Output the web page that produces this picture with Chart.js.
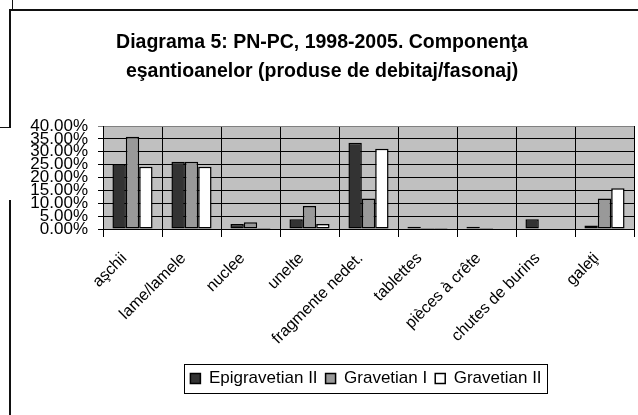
<!DOCTYPE html>
<html>
<head>
<meta charset="utf-8">
<script src="https://cdn.jsdelivr.net/npm/chart.js@4.4.0/dist/chart.umd.min.js"></script>
<style>
  html, body { margin: 0; padding: 0; background: #fff; }
  #wrap { position: relative; width: 638px; height: 415px; overflow: hidden; }
  #chart { position: absolute; left: 0; top: 0; }
  .ln { position: absolute; background: #111; }
</style>
</head>
<body>
<div id="wrap">
  <canvas id="chart" width="638" height="415"></canvas>
  <!-- bits of the page frame around the scanned chart -->
  <div class="ln" style="left:12px;top:0;width:1px;height:9px"></div>
  <div class="ln" style="left:9px;top:9px;width:629px;height:2px"></div>
  <div class="ln" style="left:9px;top:9px;width:2px;height:119px"></div>
  <div class="ln" style="left:0;top:127px;width:10px;height:1px"></div>
  <div class="ln" style="left:9px;top:200px;width:2px;height:215px"></div>
</div>
<script>
// categories (x axis)
const categories = [
  'aşchii', 'lame/lamele', 'nuclee', 'unelte', 'fragmente nedet.',
  'tablettes', 'pièces à crête', 'chutes de burins', 'galeţi'
];

// percentages
const epigravetianII = [25.1, 26.1, 1.9, 3.8, 33.5, 0.9, 0.9, 3.8, 1.4];
const gravetianI = [35.8, 26.1, 2.6, 8.9, 11.8, 0.4, 0.4, null, 11.8];
const gravetianII = [24.2, 24.2, 0.4, 1.9, 31.2, 0.4, null, null, 15.8];

// y axis tick values
const yTicks = [0, 5, 10, 15, 20, 25, 30, 35, 40];

const FONT = "'Liberation Sans', Arial, sans-serif";
const LEGEND_SHIFT = 44;

// grey plot background
const plotBackground = {
  id: 'plotBackground',
  beforeDraw(chart) {
    const { ctx, chartArea } = chart;
    ctx.save();
    ctx.fillStyle = '#c0c0c0';
    ctx.fillRect(chartArea.left, chartArea.top,
      chartArea.right - chartArea.left, chartArea.bottom - chartArea.top);
    ctx.restore();
  }
};

// legend sits right of centre in the original, and has a frame
const legendFrame = {
  id: 'legendFrame',
  afterUpdate(chart) {
    const legend = chart.legend;
    legend.left += LEGEND_SHIFT;
    legend.right += LEGEND_SHIFT;
    legend.legendHitBoxes.forEach((b) => { b.left += LEGEND_SHIFT; });
  },
  afterDraw(chart) {
    const boxes = chart.legend.legendHitBoxes;
    if (!boxes || !boxes.length) return;
    const left = Math.min(...boxes.map(b => b.left)) - 6;
    const right = Math.max(...boxes.map(b => b.left + b.width)) + 6;
    const top = Math.min(...boxes.map(b => b.top)) - 6;
    const bottom = Math.max(...boxes.map(b => b.top + b.height)) + 6;
    const { ctx } = chart;
    ctx.save();
    ctx.strokeStyle = '#000';
    ctx.lineWidth = 1;
    ctx.strokeRect(Math.round(left) + 0.5, Math.round(top) + 0.5,
      Math.round(right - left), Math.round(bottom - top));
    ctx.restore();
  }
};

const barStyle = {
  borderColor: '#000',
  borderWidth: 1.5,
  borderSkipped: false,
  barPercentage: 1,
  categoryPercentage: 0.68
};

new Chart(document.getElementById('chart'), {
  type: 'bar',
  data: {
    labels: categories,
    datasets: [
      { label: 'Epigravetian II', data: epigravetianII, backgroundColor: '#333333', ...barStyle },
      { label: 'Gravetian I', data: gravetianI, backgroundColor: '#999999', ...barStyle },
      { label: 'Gravetian II', data: gravetianII, backgroundColor: '#ffffff', ...barStyle }
    ]
  },
  options: {
    responsive: false,
    animation: false,
    layout: { padding: { left: 10, right: 4, top: 10, bottom: 18 } },
    plugins: {
      title: {
        display: true,
        text: ['Diagrama 5: PN-PC, 1998-2005. Componenţa',
               'eşantioanelor (produse de debitaj/fasonaj)'],
        color: '#000',
        font: { family: FONT, size: 19.5, weight: 'bold', lineHeight: '29px' },
        padding: { top: 18, bottom: 40 }
      },
      legend: {
        position: 'bottom',
        labels: {
          color: '#000',
          font: { family: FONT, size: 17 },
          boxWidth: 10,
          boxHeight: 10,
          padding: 8
        }
      },
      tooltip: { enabled: false }
    },
    scales: {
      x: {
        grid: {
          offset: true,
          color: (ctx) => (ctx.index === categories.length ? '#808080' : '#000'),
          lineWidth: 1,
          tickLength: 8
        },
        border: { color: '#000', width: 1 },
        ticks: {
          color: '#000',
          font: { family: FONT, size: 16 },
          minRotation: 45,
          maxRotation: 45,
          autoSkip: false,
          labelOffset: -8,
          padding: 12
        },
        afterFit(scale) { scale.height = 133; }
      },
      y: {
        min: 0,
        max: 40,
        afterBuildTicks(scale) { scale.ticks = yTicks.map(v => ({ value: v })); },
        grid: {
          color: (ctx) => (ctx.tick && ctx.tick.value === 40 ? '#808080' : '#000'),
          lineWidth: 1,
          tickLength: 5
        },
        border: { color: '#000', width: 1 },
        ticks: {
          color: '#000',
          font: { family: FONT, size: 17 },
          autoSkip: false,
          padding: 10,
          callback: (v) => v.toFixed(2) + '%'
        },
        afterFit(scale) { scale.width = 93; }
      }
    }
  },
  plugins: [plotBackground, legendFrame]
});
</script>
</body>
</html>
